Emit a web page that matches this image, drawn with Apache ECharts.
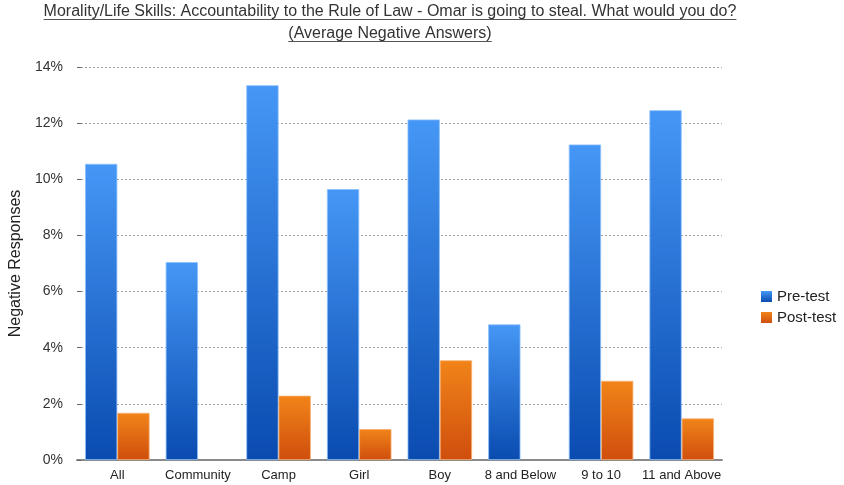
<!DOCTYPE html>
<html>
<head>
<meta charset="utf-8">
<script src="https://cdn.jsdelivr.net/npm/echarts@6/dist/echarts.min.js"></script>
<style>
  html, body { margin: 0; padding: 0; background: #fff; }
  #chart { width: 844px; height: 485px; }
</style>
</head>
<body>
<div id="chart"></div>
<script>
// Groups of respondents
const categories = ['All', 'Community', 'Camp', 'Girl', 'Boy', '8 and Below', '9 to 10', '11 and Above'];
// Share of negative answers (%)
const preTest  = [10.55, 7.05, 13.35, 9.65, 12.13, 4.83, 11.24, 12.46];
const postTest = [1.68, null, 2.29, 1.10, 3.55, null, 2.82, 1.48];
const seriesNames = ['Pre-test', 'Post-test'];
const titleLines = [
  'Morality/Life Skills: Accountability to the Rule of Law - Omar is going to steal. What would you do?',
  '(Average Negative Answers)'
];

const FONT = '"Liberation Sans", Arial, Helvetica, sans-serif';
const TITLE_SIZE = 16;
const TITLE_CX = 390;
const TITLE_Y = [12, 34];

function textWidth(txt, size) {
  const c = document.createElement('canvas').getContext('2d');
  c.font = size + 'px ' + FONT;
  return c.measureText(txt).width;
}

function grad(top, bottom) {
  return new echarts.graphic.LinearGradient(0, 0, 0, 1, [
    { offset: 0, color: top },
    { offset: 1, color: bottom }
  ]);
}

// Title text plus underline strokes beneath each line
const titleGraphics = [];
titleLines.forEach((line, i) => {
  const w = textWidth(line, TITLE_SIZE);
  titleGraphics.push({
    type: 'text',
    x: TITLE_CX, y: TITLE_Y[i],
    style: {
      text: line, fill: '#333', font: TITLE_SIZE + 'px ' + FONT,
      textAlign: 'center', textVerticalAlign: 'middle'
    }
  });
  titleGraphics.push({
    type: 'line',
    shape: { x1: TITLE_CX - w / 2, y1: TITLE_Y[i] + 7.5, x2: TITLE_CX + w / 2, y2: TITLE_Y[i] + 7.5 },
    style: { stroke: '#555', lineWidth: 1 }
  });
});

const chart = echarts.init(document.getElementById('chart'), null, { renderer: 'canvas' });
chart.setOption({
  backgroundColor: '#fff',
  animation: false,
  textStyle: { fontFamily: FONT },
  graphic: titleGraphics,
  legend: {
    orient: 'vertical',
    left: 756, top: 284,
    icon: 'rect',
    itemWidth: 11, itemHeight: 11, itemGap: 6,
    itemStyle: { borderWidth: 0 },
    textStyle: { fontSize: 15, color: '#222', fontFamily: FONT },
    data: seriesNames
  },
  grid: { left: 77, right: 122, top: 67, bottom: 25, containLabel: false, outerBoundsMode: 'none' },
  xAxis: {
    type: 'category',
    data: categories,
    axisLine: { lineStyle: { color: '#8a8a8a', width: 2 } },
    axisTick: { show: false },
    axisLabel: { interval: 0, color: '#222', fontSize: 13, margin: 9, fontFamily: FONT }
  },
  yAxis: {
    type: 'value',
    min: 0, max: 14, interval: 2,
    name: 'Negative Responses',
    nameLocation: 'middle',
    nameGap: 53,
    nameTextStyle: { fontSize: 16, color: '#222', fontFamily: FONT },
    axisLine: { show: false },
    axisTick: { show: true, inside: true, length: 4, lineStyle: { color: '#666' } },
    axisLabel: { formatter: '{value}%', color: '#333', fontSize: 14, margin: 14, fontFamily: FONT },
    splitLine: { lineStyle: { type: [2, 2], color: '#9a9a9a', width: 1 } }
  },
  series: [
    {
      name: seriesNames[0], type: 'bar', data: preTest,
      barGap: '0%', barCategoryGap: '20%',
      itemStyle: { color: grad('#4597f6', '#0a4bb0'), borderColor: '#8cc0fb', borderWidth: 0.8 }
    },
    {
      name: seriesNames[1], type: 'bar', data: postTest,
      itemStyle: { color: grad('#f18419', '#cf4e0d'), borderColor: '#f8b070', borderWidth: 0.8 }
    }
  ]
});
</script>
</body>
</html>
